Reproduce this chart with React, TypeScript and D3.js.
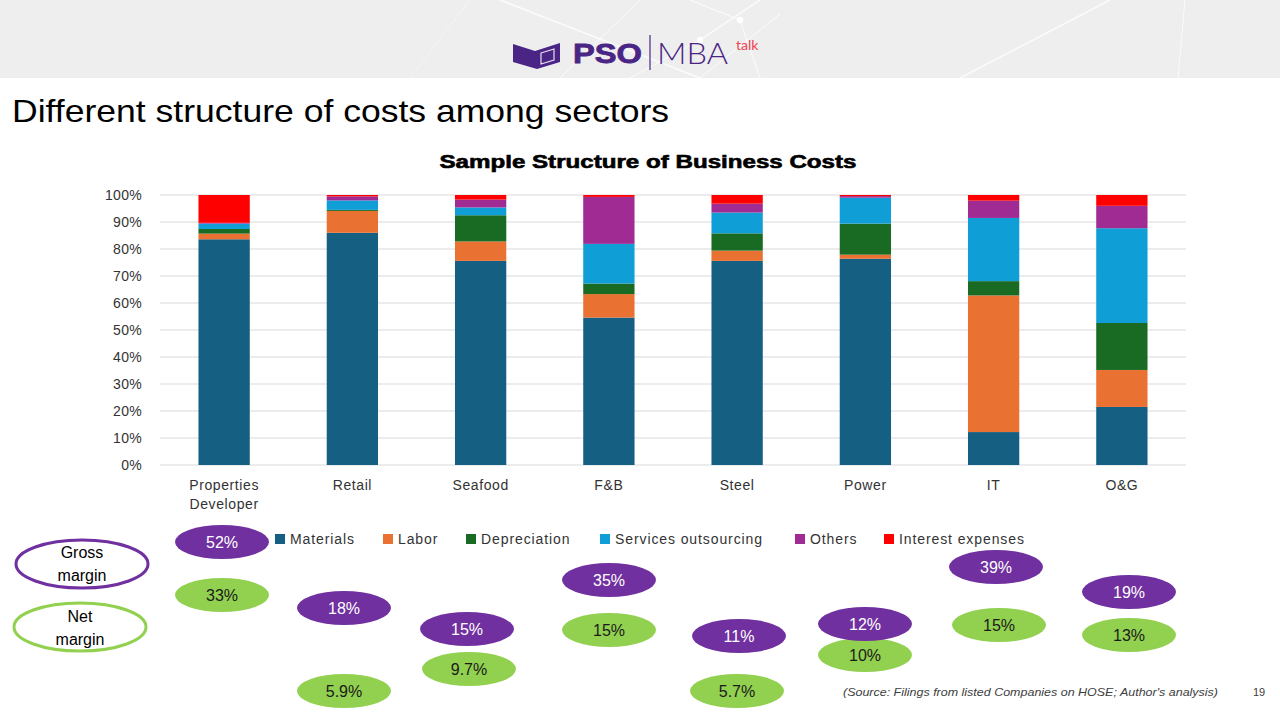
import React from "react";
import * as d3 from "d3";

const categories = ["Properties Developer", "Retail", "Seafood", "F&B", "Steel", "Power", "IT", "O&G"];
const seriesNames = ["Materials", "Labor", "Depreciation", "Services outsourcing", "Others", "Interest expenses"];
const materials = [83.6, 86.0, 75.6, 54.6, 75.6, 76.4, 12.2, 21.5];
const labor = [2.1, 8.1, 7.2, 8.7, 3.8, 1.5, 50.6, 13.7];
const depreciation = [1.7, 0.4, 9.7, 3.9, 6.4, 11.5, 5.3, 17.4];
const services = [2.0, 3.5, 2.9, 14.7, 7.7, 9.6, 23.4, 35.1];
const others = [0.3, 1.5, 2.9, 17.4, 3.3, 0.6, 6.4, 8.3];
const interest = [10.3, 0.5, 1.7, 0.7, 3.2, 0.4, 2.1, 4.0];
const yTicks = [0, 10, 20, 30, 40, 50, 60, 70, 80, 90, 100];
const grossMargin = ["52%", "18%", "15%", "35%", "11%", "12%", "39%", "19%"];
const netMargin = ["33%", "5.9%", "9.7%", "15%", "5.7%", "10%", "15%", "13%"];

// layout of the margin bubbles (gross x, gross y, net x, net y)
const bubbleLayout = [
  [222, 542, 222, 595],
  [344, 608, 344, 691],
  [467, 629, 469, 669],
  [609, 580, 609, 630],
  [739, 636, 737, 691],
  [865, 624, 865, 655],
  [996, 567, 999, 625],
  [1129, 592, 1129, 635],
];

const colors = ["#156082", "#E97132", "#196B24", "#0F9ED5", "#A02B93", "#FF0000"];
const PURPLE = "#7030A0";
const GREEN = "#92D050";
const FONT = "'Liberation Sans', Arial, sans-serif";

export default function App() {
  const rows = categories.map((c, i) => ({
    cat: c,
    Materials: materials[i],
    Labor: labor[i],
    Depreciation: depreciation[i],
    "Services outsourcing": services[i],
    Others: others[i],
    "Interest expenses": interest[i],
  }));
  const stack = d3.stack<any>().keys(seriesNames)(rows);
  const x = d3.scaleBand().domain(categories).range([160, 1186]).paddingInner(0.6).paddingOuter(0.3);
  const y = d3.scaleLinear().domain([0, 100]).range([465, 195]);

  const legendX = [275, 383, 466, 600, 795, 884];

  return (
    <svg width={1280} height={712} style={{ position: "absolute", left: 0, top: 0, display: "block" }} fontFamily={FONT}>
      <rect x={0} y={0} width={1280} height={712} fill="#ffffff" />
      {/* header */}
      <rect x={0} y={0} width={1280} height={78} fill="#eeeeee" />
      <g stroke="#ffffff" strokeOpacity={0.75} fill="none">
        <line x1={500} y1={0} x2={700} y2={78} strokeWidth={1.5} />
        <line x1={640} y1={0} x2={560} y2={78} strokeWidth={1} />
        <line x1={760} y1={0} x2={700} y2={40} strokeWidth={1.5} />
        <line x1={700} y1={40} x2={630} y2={78} strokeWidth={1} />
        <line x1={690} y1={0} x2={740} y2={20} strokeWidth={1} />
        <line x1={740} y1={20} x2={760} y2={78} strokeWidth={1} />
        <line x1={1110} y1={0} x2={960} y2={78} strokeWidth={1.5} />
        <line x1={1185} y1={0} x2={1178} y2={78} strokeWidth={1} />
        <line x1={780} y1={14} x2={700} y2={78} strokeWidth={1} />
        <line x1={410} y1={78} x2={470} y2={0} strokeWidth={0.8} strokeOpacity={0.5} />
        <circle cx={700} cy={40} r={3} fill="#ffffff" />
        <circle cx={740} cy={20} r={3} fill="#ffffff" />
      </g>
      {/* logo */}
      <path d="M513,44 L535,51 L560,43 L560,62 L537,69 L513,62 Z" fill="#4B2585" />
      <path d="M541,53 L554,49 L554,60 L541,64 Z" fill="none" stroke="#ffffff" strokeOpacity={0.85} strokeWidth={1.2} />
      <text x={573} y={63} fontSize={28} fontWeight={900} fill="#4B2585" stroke="#4B2585" strokeWidth={0.8} textLength={69} lengthAdjust="spacingAndGlyphs">PSO</text>
      <line x1={650} y1={35} x2={650} y2={70} stroke="#4B2585" strokeWidth={1.2} />
      <text x={657} y={64} fontSize={30} fontWeight={300} fill="#4B2585" fontFamily="Lato, sans-serif" textLength={71} lengthAdjust="spacingAndGlyphs">MBA</text>
      <text x={736} y={50} fontSize={14} fill="#F0404F" fontFamily="Lato, sans-serif">talk</text>

      {/* page title */}
      <text x={12} y={122} fontSize={32} fill="#000000" textLength={657} lengthAdjust="spacingAndGlyphs">Different structure of costs among sectors</text>

      {/* chart title */}
      <text x={648} y={168} fontSize={18} fontWeight={900} textAnchor="middle" fill="#000" stroke="#000" strokeWidth={0.6} textLength={417} lengthAdjust="spacingAndGlyphs">Sample Structure of Business Costs</text>

      {/* grid */}
      {yTicks.map((t) => (
        <g key={t}>
          <line x1={160} x2={1186} y1={y(t)} y2={y(t)} stroke="#D9D9D9" strokeWidth={1} />
          <text x={142} y={y(t) + 5} fontSize={14} textAnchor="end" fill="#333333" letterSpacing={0.3}>{t}%</text>
        </g>
      ))}

      {/* bars */}
      {stack.map((s, si) => (
        <g key={s.key} fill={colors[si]}>
          {s.map((d: any, i: number) => (
            <rect key={i} x={x(categories[i])} width={x.bandwidth()} y={y(d[1])} height={Math.max(0, y(d[0]) - y(d[1]))} />
          ))}
        </g>
      ))}

      {/* category labels */}
      {categories.map((c) => {
        const cx = (x(c) as number) + x.bandwidth() / 2;
        const parts = c === "Properties Developer" ? ["Properties", "Developer"] : [c];
        return (
          <text key={c} x={cx} y={490} fontSize={14} textAnchor="middle" fill="#333333" letterSpacing={0.6}>
            {parts.map((p, k) => (
              <tspan key={k} x={cx} dy={k === 0 ? 0 : 19}>{p}</tspan>
            ))}
          </text>
        );
      })}

      {/* legend */}
      {seriesNames.map((n, i) => (
        <g key={n}>
          <rect x={legendX[i]} y={534} width={10} height={10} fill={colors[i]} />
          <text x={legendX[i] + 15} y={544} fontSize={14} fill="#333333" letterSpacing={0.9}>{n}</text>
        </g>
      ))}

      {/* margin labels */}
      <ellipse cx={82} cy={564} rx={66} ry={24} fill="#fff" stroke={PURPLE} strokeWidth={3} />
      <text x={82} y={558} fontSize={16} textAnchor="middle" fill="#000">Gross</text>
      <text x={82} y={581} fontSize={16} textAnchor="middle" fill="#000">margin</text>
      <ellipse cx={80} cy={627} rx={66} ry={24} fill="#fff" stroke={GREEN} strokeWidth={3} />
      <text x={80} y={622} fontSize={16} textAnchor="middle" fill="#000">Net</text>
      <text x={80} y={645} fontSize={16} textAnchor="middle" fill="#000">margin</text>

      {netMargin.map((v, i) => (
        <g key={"n" + i}>
          <ellipse cx={bubbleLayout[i][2]} cy={bubbleLayout[i][3]} rx={47} ry={17} fill={GREEN} />
          <text x={bubbleLayout[i][2]} y={bubbleLayout[i][3] + 6} fontSize={16} textAnchor="middle" fill="#1a1a1a">{v}</text>
        </g>
      ))}
      {grossMargin.map((v, i) => (
        <g key={"g" + i}>
          <ellipse cx={bubbleLayout[i][0]} cy={bubbleLayout[i][1]} rx={47} ry={17} fill={PURPLE} />
          <text x={bubbleLayout[i][0]} y={bubbleLayout[i][1] + 6} fontSize={16} textAnchor="middle" fill="#ffffff">{v}</text>
        </g>
      ))}

      {/* source */}
      <text x={843} y={696} fontSize={11} fontStyle="italic" fill="#404040" textLength={375} lengthAdjust="spacingAndGlyphs">(Source: Filings from listed Companies on HOSE; Author's analysis)</text>
      <text x={1253} y={696} fontSize={11} fill="#404040">19</text>
    </svg>
  );
}
